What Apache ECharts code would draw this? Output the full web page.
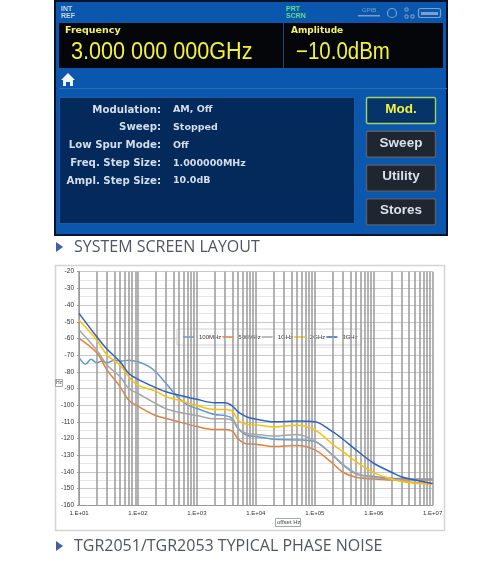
<!DOCTYPE html>
<html>
<head>
<meta charset="utf-8">
<style>
  html, body { margin: 0; padding: 0; background: #fff; }
  #chart { width: 500px; height: 562px; }
</style>
<script src="https://cdn.jsdelivr.net/npm/echarts@6/dist/echarts.min.js"></script>
</head>
<body>
<div id="chart"></div>
<script>
// offset frequency (Hz) shared by the smooth part of every trace
var tailHz = [1e4, 2e4, 5e4, 1e5, 2e5, 3e5, 5e5, 1e6, 2e6, 3e6, 5e6, 1e7];

// values, [Hz, dBc/Hz]
var trace100MHz = [[10,-71.4],[13,-75.4],[16,-72.4],[20,-74.6],[25,-73.5],[30,-74.6],[40,-73],[50,-73.6],[70,-73],[100,-74],[150,-76.6],[200,-80],[300,-87],[500,-96],[700,-100],[1000,-102],[2000,-105.6],[3000,-106.2],[4000,-108],[5000,-114],[7000,-118]];
var tail100MHz = [-118.8,-120.4,-120.8,-121.8,-130,-135.8,-141.2,-142.8,-143.8,-144,-144.2,-144.2];
var trace500MHz = [[10,-60],[20,-68.6],[30,-79],[50,-89],[70,-97],[100,-100.6],[200,-106.2],[300,-108],[500,-110],[1000,-112.8],[2000,-114.6],[3000,-114.6],[4000,-115.6],[5000,-120.2],[7000,-123.2]];
var tail500MHz = [-123.4,-124.8,-124.2,-126.8,-134.8,-140.2,-143.2,-144.2,-144.8,-144.8,-144.8,-144.8];
var trace1GHz = [[10,-55],[20,-67],[30,-76],[50,-83],[70,-90],[100,-93],[200,-99],[300,-102.2],[500,-104.2],[1000,-106.2],[2000,-108.2],[3000,-108.2],[4000,-109.2],[5000,-114],[7000,-117]];
var tail1GHz = [-117.5,-118.5,-117.5,-121.4,-129.8,-135.4,-140.8,-143.4,-144.4,-145.4,-146.4,-147.4];
var trace2GHz = [[10,-49],[20,-61],[30,-70],[50,-76],[70,-83],[100,-88],[200,-91.6],[300,-95],[500,-97],[1000,-100.2],[2000,-102.6],[3000,-102.6],[4000,-103.6],[5000,-109],[7000,-111.5]];
var tail2GHz = [-111.8,-113,-112,-114.8,-123.4,-127.8,-133.8,-140.4,-144.2,-145.8,-146.8,-147.4];
var trace3GHz = [[10,-45],[20,-59],[30,-66.5],[50,-74],[70,-81],[100,-84.5],[200,-89.5],[300,-92],[500,-94],[1000,-96.5],[2000,-98.5],[3000,-98.5],[4000,-100.5],[5000,-104],[7000,-107]];
var tail3GHz = [-108.4,-110,-109.5,-109.9,-115.9,-120.4,-126.8,-134.8,-140.2,-143,-144.8,-147];

var seriesNames = ["100MHz", "500MHz", "1GHz", "2GHz", "3GHz"];
var seriesColors = ["#5b9bd5", "#ed7d31", "#a5a5a5", "#ffc000", "#2f62c0"];
var gridDecades = [10, 100, 1000, 10000, 100000, 1000000];
var gridSteps = [1, 2, 3, 4, 5, 6, 7, 8, 9];

var statusLabels = ["Modulation:", "Sweep:", "Low Spur Mode:", "Freq. Step Size:", "Ampl. Step Size:"];
var statusValues = ["AM, Off", "Stopped", "Off", "1.000000MHz", "10.0dB"];
var softKeys = ["Mod.", "Sweep", "Utility", "Stores"];

function joinTail(head, tail) {
  return head.concat(tail.map(function (v, i) { return [tailHz[i], v]; }));
}
var allTraces = [
  joinTail(trace100MHz, tail100MHz),
  joinTail(trace500MHz, tail500MHz),
  joinTail(trace1GHz, tail1GHz),
  joinTail(trace2GHz, tail2GHz),
  joinTail(trace3GHz, tail3GHz)
];

var gridLines = [{ xAxis: 1e7 }];
gridDecades.forEach(function (d) {
  gridSteps.forEach(function (s) { gridLines.push({ xAxis: d * s }); });
});

var uiFont = '"Liberation Sans", sans-serif';
var screenFont = '"DejaVu Sans", sans-serif';
var iconColor = "#7aa0cc";
var graphics = [
  // frame behind the plot
  { type: "rect", z: -5, shape: { x: 55.5, y: 265.5, width: 389, height: 265 }, style: { fill: "#fff", stroke: "#d4d4d4", lineWidth: 1.5 } },
  // instrument screen
  { type: "rect", shape: { x: 55, y: 1, width: 392, height: 234 }, style: { fill: "#0b57ad", stroke: "#05122a", lineWidth: 2 } },
  { type: "rect", shape: { x: 59, y: 23, width: 384, height: 45 }, style: { fill: "#04060a" } },
  { type: "rect", shape: { x: 283, y: 23, width: 1, height: 45 }, style: { fill: "#24466e" } },
  { type: "rect", shape: { x: 59, y: 88, width: 388, height: 1 }, style: { fill: "#2a6cb8" } },
  { type: "rect", shape: { x: 59.5, y: 97.5, width: 295, height: 126 }, style: { fill: "#042a5c", stroke: "#1d5aa0", lineWidth: 1 } },
  { type: "text", x: 61, y: 6, style: { text: "INT\nREF", fill: "#c8d8ea", font: "bold 7px " + uiFont, lineHeight: 7 } },
  { type: "text", x: 286, y: 6, style: { text: "PRT\nSCRN", fill: "#5fe08a", font: "bold 7px " + uiFont, lineHeight: 7 } },
  { type: "text", x: 65, y: 26, style: { text: "Frequency", fill: "#f4f06a", font: "bold 9.5px " + screenFont } },
  { type: "text", x: 71, y: 41, scaleX: 0.94, style: { text: "3.000 000 000GHz", fill: "#f4f33a", font: "23px " + uiFont } },
  { type: "text", x: 291, y: 26, style: { text: "Amplitude", fill: "#f4f06a", font: "bold 9px " + screenFont } },
  { type: "text", x: 296, y: 41, scaleX: 0.89, style: { text: "\u221210.0dBm", fill: "#f4f33a", font: "23px " + uiFont } },
  // home icon
  { type: "polygon", shape: { points: [[61, 80], [68, 73], [75, 80], [73, 80], [73, 86], [70, 86], [70, 82], [66, 82], [66, 86], [63, 86], [63, 80]] }, style: { fill: "#f2f6fa" } },
  // status icons
  { type: "rect", shape: { x: 418.5, y: 8.5, width: 22, height: 9, r: 2 }, style: { fill: "none", stroke: iconColor, lineWidth: 1.2 } },
  { type: "rect", shape: { x: 421, y: 12, width: 17, height: 3 }, style: { fill: iconColor } },
  { type: "circle", shape: { cx: 392, cy: 13, r: 4.5 }, style: { fill: "none", stroke: iconColor, lineWidth: 1.2 } },
  { type: "rect", shape: { x: 405, y: 8, width: 3, height: 3 }, style: { fill: "none", stroke: iconColor } },
  { type: "rect", shape: { x: 405, y: 15, width: 3, height: 3 }, style: { fill: "none", stroke: iconColor } },
  { type: "rect", shape: { x: 411, y: 15, width: 3, height: 3 }, style: { fill: "none", stroke: iconColor } },
  { type: "rect", shape: { x: 358, y: 15, width: 22, height: 1.5 }, style: { fill: iconColor } },
  { type: "text", x: 362, y: 7, style: { text: "GPIB", fill: iconColor, font: "6px " + uiFont } },
  // captions
  { type: "polygon", shape: { points: [[56, 242], [63, 247], [56, 252]] }, style: { fill: "#3d5fa8" } },
  { type: "text", x: 74, y: 239, style: { text: "SYSTEM SCREEN LAYOUT", fill: "#4f5564", font: "16px 'Open Sans', sans-serif" } },
  { type: "polygon", shape: { points: [[56, 541], [63, 546], [56, 551]] }, style: { fill: "#3d5fa8" } },
  { type: "text", x: 74, y: 538, style: { text: "TGR2051/TGR2053 TYPICAL PHASE NOISE", fill: "#4f5564", font: "16px 'Open Sans', sans-serif" } },
  // axis name boxes
  { type: "rect", shape: { x: 55.5, y: 379.5, width: 7, height: 7 }, style: { fill: "#fff", stroke: "#8b93a3", lineWidth: 0.8 } },
  { type: "text", x: 56, y: 380.5, style: { text: "Hz", fill: "#444", font: "5px " + uiFont } },
  { type: "rect", shape: { x: 275.5, y: 518.5, width: 25, height: 8 }, style: { fill: "#fff", stroke: "#8b93a3", lineWidth: 0.8 } },
  { type: "text", x: 277, y: 519.5, style: { text: "offset Hz", fill: "#444", font: "6px " + uiFont } }
];

statusLabels.forEach(function (t, i) {
  var rowY = 105 + i * 17.75;
  graphics.push({ type: "text", x: 161, y: rowY, style: { text: t, fill: "#d4deea", font: "bold 10.2px " + screenFont, align: "right" } });
  graphics.push({ type: "text", x: 173, y: rowY, style: { text: statusValues[i], fill: "#d4deea", font: "bold 9.5px " + screenFont } });
});

softKeys.forEach(function (t, i) {
  var keyY = 97 + i * 33.8;
  var active = i === 0;
  graphics.push({ type: "rect", shape: { x: 366.5, y: keyY + 0.5, width: 69, height: 26, r: 1.5 }, style: { fill: active ? "#063468" : "#1f2630", stroke: active ? "#a8d060" : "#54606f", lineWidth: 1.4 } });
  graphics.push({ type: "text", x: 401, y: keyY + 5, style: { text: t, fill: active ? "#f4f33a" : "#d9e2ec", font: "bold 13.5px " + uiFont, align: "center" } });
});

var series = [{
  // empty carrier for the log-spaced vertical grid
  name: "grid",
  type: "line",
  data: [],
  z: 1,
  markLine: {
    silent: true,
    symbol: "none",
    animation: false,
    label: { show: false },
    lineStyle: { color: "#9a9a9a", width: 1.5, type: "solid" },
    data: gridLines
  }
}];
seriesNames.forEach(function (name, i) {
  series.push({
    name: name,
    type: "line",
    data: allTraces[i],
    showSymbol: false,
    smooth: 0.35,
    z: 3 + i,
    lineStyle: { color: seriesColors[i], width: 1.5 },
    itemStyle: { color: seriesColors[i] }
  });
});

var chart = echarts.init(document.getElementById("chart"), null, { renderer: "canvas" });
chart.setOption({
  animation: false,
  backgroundColor: "#fff",
  graphic: graphics,
  legend: {
    data: seriesNames,
    left: 177,
    top: 329,
    padding: [5, 4, 5, 6],
    itemWidth: 11,
    itemHeight: 1.5,
    itemGap: 1,
    backgroundColor: "#fff",
    borderColor: "#d0d0d0",
    borderWidth: 1,
    icon: "rect",
    textStyle: { fontSize: 6, color: "#333", fontFamily: uiFont }
  },
  grid: { left: 79, top: 271.7, width: 353.7, height: 233.6, containLabel: false },
  xAxis: {
    type: "log",
    logBase: 10,
    min: 10,
    max: 1e7,
    axisLine: { onZero: false, lineStyle: { color: "#999" } },
    axisTick: { show: false },
    splitLine: { show: false },
    axisLabel: {
      fontSize: 6,
      color: "#333",
      fontFamily: uiFont,
      margin: 5,
      formatter: function (v) {
        var p = Math.round(Math.log10(v));
        return "1.E+" + (p < 10 ? "0" + p : p);
      }
    }
  },
  yAxis: {
    type: "value",
    min: -160,
    max: -20,
    interval: 10,
    axisLine: { show: true, onZero: false, lineStyle: { color: "#999" } },
    axisTick: { show: true, length: 2, lineStyle: { color: "#999" } },
    splitLine: { show: true, lineStyle: { color: "#c8c8c8", width: 1.2 } },
    minorSplitLine: { show: true, lineStyle: { color: "#e6e6e6", width: 1 } },
    minorTick: { show: false, splitNumber: 2 },
    axisLabel: { fontSize: 6.5, color: "#333", fontFamily: uiFont, margin: 5 }
  },
  series: series
});
</script>
</body>
</html>
